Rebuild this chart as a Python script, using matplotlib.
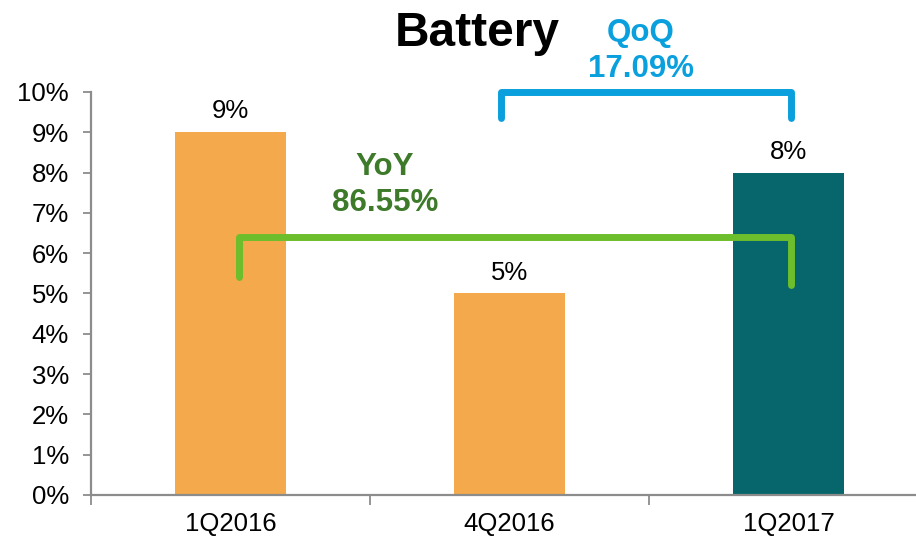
import matplotlib
matplotlib.use("Agg")
import matplotlib.pyplot as plt
from matplotlib.ticker import FixedLocator

categories = ["1Q2016", "4Q2016", "1Q2017"]
values = [9, 5, 8]
bar_labels = ["9%", "5%", "8%"]
y_ticks = [0, 1, 2, 3, 4, 5, 6, 7, 8, 9, 10]
yoy_label = "YoY\n86.55%"
qoq_label = "QoQ\n17.09%"

plt.rcParams['font.family'] = ['Liberation Sans', 'DejaVu Sans']

fig = plt.figure(figsize=(9.16, 5.37), dpi=100)
ax = fig.add_axes([91/916, 1-495/537, (928-91)/916, (495-92)/537])

colors = ["#F4AA4C", "#F4AA4C", "#07666B"]
x = list(range(len(categories)))
ax.bar(x, values, width=0.4, color=colors, zorder=2)

for xi, v, lab in zip(x, values, bar_labels):
    ax.text(xi, v + 0.22, lab, ha="center", va="bottom", fontsize=18.5, color="#000000")

ax.set_xlim(-0.5, 2.5)
ax.set_ylim(0, 10)
ax.set_yticks(y_ticks)
ax.set_yticklabels([f"{t}%" for t in y_ticks], fontsize=18.5)
ax.set_xticks(x)
ax.set_xticklabels(categories, fontsize=18.5)
ax.xaxis.set_minor_locator(FixedLocator([-0.5, 0.5, 1.5, 2.5]))
ax.tick_params(axis="x", which="major", length=0, pad=12)
ax.tick_params(axis="x", which="minor", length=7, width=1.3, color="#8C8C8C")
ax.tick_params(axis="y", length=6, width=1.3, color="#8C8C8C", pad=10)

for s in ["top", "right"]:
    ax.spines[s].set_visible(False)
for s in ["left", "bottom"]:
    ax.spines[s].set_color("#8C8C8C")
    ax.spines[s].set_linewidth(1.6)

# YoY bracket
green = "#6CBE2C"
ax.plot([0.03, 0.03, 2.01, 2.01], [5.4, 6.4, 6.4, 5.2], color=green, lw=5,
        solid_joinstyle="round", solid_capstyle="round", zorder=3)
fig.text(385/916, 1-185/537, yoy_label, ha="center", va="center", fontsize=22.5,
         fontweight="bold", color="#3D7A2A", linespacing=1.3, zorder=4)

# QoQ bracket
blue = "#0AA0DD"
ax.plot([0.97, 0.97, 2.01, 2.01], [9.35, 10.0, 10.0, 9.35], color=blue, lw=5,
        solid_joinstyle="round", solid_capstyle="round", zorder=3, clip_on=False)
fig.text(641/916, 1-51/537, qoq_label, ha="center", va="center", fontsize=22.5,
         fontweight="bold", color=blue, linespacing=1.3)

fig.text(477/916, 1-33/537, "Battery", ha="center", va="center", fontsize=34.5,
         fontweight="bold", color="#000000")

fig.savefig("out.png", dpi=100)
